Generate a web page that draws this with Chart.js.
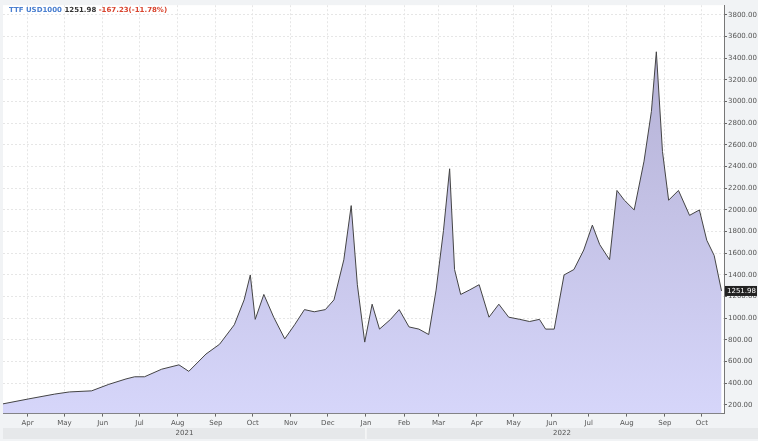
<!DOCTYPE html>
<html lang="en">
<head>
    <meta charset="UTF-8">
    <title>TTF USD1000</title>
    <script src="https://cdn.jsdelivr.net/npm/chart.js@4/dist/chart.umd.min.js"></script>
    <style>
        html, body { margin: 0; padding: 0; background: #f1f3f5; }
        #wrap { width: 758px; height: 441px; position: relative; }
    </style>
</head>
<body>
<div id="wrap"><canvas id="ttfChart"></canvas></div>
<script>
    // days counted from 2021-03-12
    const days = [0,21,42,54,72,86,100,107,115,129,143,151,165,176,188,196,201,205,212,220,229,237,245,253,262,269,277,283,288,294,300,306,315,322,330,338,346,352,358,363,367,372,379,387,395,403,411,420,428,436,441,448,456,464,472,479,485,493,499,505,513,521,527,531,536,541,549,558,566,572,578,584];
    const prices = [210,256,300,320,330,390,440,460,460,530,570,510,670,760,940,1170,1400,990,1220,1010,810,940,1080,1060,1080,1170,1540,2040,1310,780,1130,900,990,1080,920,900,850,1260,1810,2380,1450,1220,1260,1310,1010,1130,1010,990,970,990,900,900,1400,1450,1630,1860,1680,1540,2180,2090,2000,2450,2910,3460,2540,2090,2180,1950,2000,1720,1580,1251.98];
    const monthDays = [20,50,81,111,142,173,203,234,264,295,326,354,385,415,446,476,507,538,568];
    const monthLabels = ['Apr','May','Jun','Jul','Aug','Sep','Oct','Nov','Dec','Jan','Feb','Mar','Apr','May','Jun','Jul','Aug','Sep','Oct'];
    const years = ['2021', '2022'];
    const yearStart = [0, 295];

    const overlay = {
        id: 'overlay',
        afterDraw(chart) {
            const ctx = chart.ctx;
            const a = chart.chartArea;
            const x = chart.scales.x, y = chart.scales.y;
            ctx.save();
            // year band
            ctx.fillStyle = '#e6e8ea';
            ctx.fillRect(a.left, 428, a.right - a.left + 34, 11);
            ctx.font = '7px DejaVu Sans';
            ctx.fillStyle = '#555';
            ctx.textAlign = 'center';
            ctx.textBaseline = 'middle';
            const x0 = a.left, xs = x.getPixelForValue(yearStart[1]), x1 = a.right + 34;
            ctx.fillText(years[0], (x0 + xs) / 2, 433.5);
            ctx.fillText(years[1], (xs + x1) / 2, 433.5);
            ctx.strokeStyle = '#fff';
            ctx.beginPath(); ctx.moveTo(xs, 428); ctx.lineTo(xs, 439); ctx.stroke();
            // title
            ctx.textAlign = 'left';
            ctx.font = 'bold 7px DejaVu Sans';
            let tx = a.left + 6;
            [['TTF USD1000 ', '#4a7fd0'], ['1251.98 ', '#333'], ['-167.23(-11.78%)', '#d9442e']].forEach(([t, c]) => {
                ctx.fillStyle = c;
                ctx.fillText(t, tx, 10);
                tx += ctx.measureText(t).width;
            });
            // last value tag
            const last = prices[prices.length - 1];
            const ly = y.getPixelForValue(last);
            ctx.fillStyle = '#222';
            ctx.fillRect(a.right + 1, ly - 5, 32, 10);
            ctx.fillStyle = '#fff';
            ctx.font = '7px DejaVu Sans';
            ctx.fillText(last.toFixed(2), a.right + 3, ly);
            ctx.restore();
        }
    };

    const ctx = document.getElementById('ttfChart').getContext('2d');
    const grad = ctx.createLinearGradient(0, 0, 0, 415);
    grad.addColorStop(0, '#b0acd0');
    grad.addColorStop(1, '#d6d6fa');

    new Chart(ctx, {
        type: 'line',
        data: {
            datasets: [{
                data: days.map((d, i) => ({ x: d, y: prices[i] })),
                borderColor: '#444',
                borderWidth: 1,
                backgroundColor: grad,
                fill: 'start',
                pointRadius: 0,
                tension: 0
            }]
        },
        options: {
            animation: false,
            responsive: true,
            maintainAspectRatio: false,
            layout: { padding: { left: 3, top: 3, bottom: 12, right: 0 } },
            plugins: { legend: { display: false }, tooltip: { enabled: false } },
            scales: {
                x: {
                    type: 'linear',
                    min: 0, max: 586,
                    afterBuildTicks: axis => { axis.ticks = monthDays.map(v => ({ value: v })); },
                    ticks: {
                        autoSkip: false, maxRotation: 0, font: { size: 7, family: 'DejaVu Sans' }, color: '#555', padding: 2,
                        callback: (v, i) => monthLabels[i]
                    },
                    grid: { color: '#e6e6e6', tickLength: 3, tickColor: '#666' },
                    border: { color: '#777', dash: [2, 2] }
                },
                y: {
                    position: 'right',
                    min: 120, max: 3890,
                    afterBuildTicks: axis => {
                        const t = [];
                        for (let v = 200; v <= 3800; v += 200) t.push({ value: v });
                        axis.ticks = t;
                    },
                    afterFit: axis => { axis.width = 34; },
                    ticks: { font: { size: 7, family: 'DejaVu Sans' }, color: '#555', padding: 1, callback: v => v.toFixed(2) },
                    grid: { color: '#e6e6e6', tickLength: 3, tickColor: '#666' },
                    border: { color: '#777', dash: [2, 2] }
                }
            }
        },
        plugins: [overlay, {
            id: 'bg',
            beforeDraw(chart) {
                const a = chart.chartArea;
                chart.ctx.save();
                chart.ctx.fillStyle = '#fff';
                chart.ctx.fillRect(a.left, a.top, a.right - a.left, a.bottom - a.top);
                chart.ctx.restore();
            }
        }]
    });
</script>
</body>
</html>
